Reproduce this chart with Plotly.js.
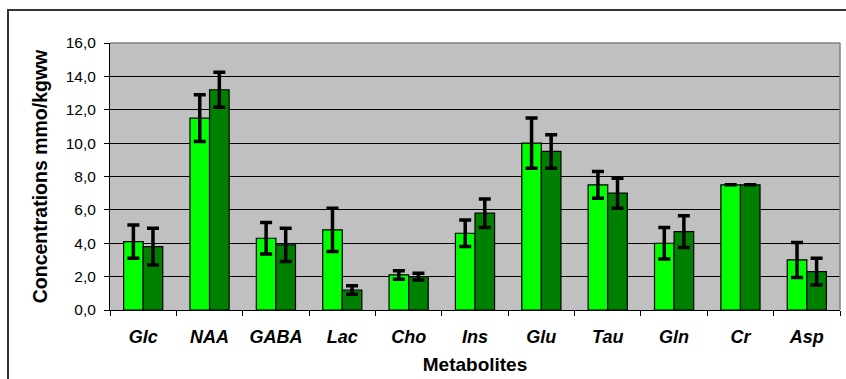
<!DOCTYPE html>
<html>
<head>
<meta charset="utf-8">
<script src="https://cdn.plot.ly/plotly-3.0.1.min.js"></script>
<style>
  html, body { margin: 0; padding: 0; background: #fff; }
  #wrap { position: relative; width: 846px; height: 379px; overflow: hidden; }
  #chart { position: absolute; left: 0; top: 0; width: 846px; height: 379px; }
  #frame { position: absolute; left: 7px; top: 9px; width: 860px; height: 400px;
           border-left: 2px solid #333; border-top: 2px solid #333; pointer-events: none; }
</style>
</head>
<body>
<div id="wrap">
  <div id="chart"></div>
  <div id="frame"></div>
</div>
<script>
const categories = ["Glc", "NAA", "GABA", "Lac", "Cho", "Ins", "Glu", "Tau", "Gln", "Cr", "Asp"];
const seriesA = [4.1, 11.5, 4.3, 4.8, 2.1, 4.6, 10.0, 7.5, 4.0, 7.5, 3.0];
const seriesB = [3.8, 13.2, 3.9, 1.2, 2.0, 5.8, 9.5, 7.0, 4.7, 7.5, 2.3];
const errorA = [1.0, 1.4, 0.95, 1.3, 0.25, 0.8, 1.5, 0.8, 0.95, 0.0, 1.05];
const errorB = [1.1, 1.05, 1.0, 0.25, 0.2, 0.85, 1.0, 0.9, 0.95, 0.0, 0.8];
const yTicks = [0, 2, 4, 6, 8, 10, 12, 14, 16];

const xLabels = categories.map(c => "<b><i>" + c + "</i></b>");

function errBar(arr) {
  return { type: "data", array: arr, visible: true, color: "#000", thickness: 3.5, width: 6 };
}

const traces = [
  { type: "bar", x: xLabels, y: seriesA, name: "A",
    marker: { color: "#00FF00", line: { color: "#000", width: 1.2 } },
    error_y: errBar(errorA) },
  { type: "bar", x: xLabels, y: seriesB, name: "B",
    marker: { color: "#008000", line: { color: "#000", width: 1.2 } },
    error_y: errBar(errorB) }
];

const layout = {
  width: 846, height: 379,
  margin: { l: 110, r: 6, t: 43, b: 69, pad: 0 },
  paper_bgcolor: "rgba(0,0,0,0)",
  plot_bgcolor: "#C0C0C0",
  showlegend: false,
  barmode: "group",
  bargap: 0.41,
  bargroupgap: 0,
  separators: ",.",
  font: { family: "Liberation Sans, Arial, sans-serif", color: "#000" },
  xaxis: {
    type: "category",
    tickson: "boundaries",
    ticks: "outside", ticklen: 5, tickcolor: "#000", tickwidth: 1,
    showline: true, linecolor: "#000", linewidth: 1,
    showgrid: false, zeroline: false,
    tickfont: { size: 18, family: "Liberation Sans, Arial, sans-serif" },
    ticklabelstandoff: 10,
    title: { text: "<b>Metabolites</b>", font: { size: 19 }, standoff: 12 },
    fixedrange: true
  },
  yaxis: {
    range: [0, 16],
    tickvals: yTicks,
    tickformat: ".1f",
    ticks: "outside", ticklen: 5, tickcolor: "#000", tickwidth: 1,
    showline: true, linecolor: "#000", linewidth: 1,
    showgrid: true, gridcolor: "#000", gridwidth: 1,
    zeroline: false,
    tickfont: { size: 15.5 },
    ticklabelstandoff: 5,
    title: { text: "<b>Concentrations mmo/kgww</b>", font: { size: 19.5 }, standoff: 12 },
    fixedrange: true
  },
  shapes: [
    { type: "line", xref: "paper", yref: "paper", x0: 0, x1: 1, y0: 1, y1: 1,
      line: { color: "#808080", width: 1.5 } },
    { type: "line", xref: "paper", yref: "paper", x0: 1, x1: 1, y0: 0, y1: 1,
      line: { color: "#808080", width: 1.5 } }
  ]
};

Plotly.newPlot("chart", traces, layout, { staticPlot: true, displayModeBar: false });
</script>
</body>
</html>
